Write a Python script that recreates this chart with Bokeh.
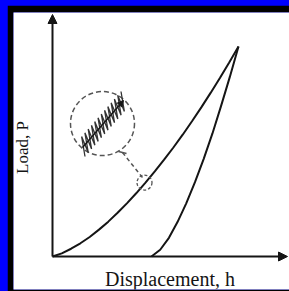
import numpy as np
from bokeh.plotting import figure
from bokeh.models import Range1d, Arrow, NormalHead, Label
from bokeh.embed import file_html
from bokeh.resources import INLINE

# ---- data (normalised to the peak) ----
load_h = [0.00, 0.05, 0.10, 0.15, 0.20, 0.25, 0.30, 0.35, 0.40, 0.45, 0.50,
          0.55, 0.60, 0.65, 0.70, 0.75, 0.80, 0.85, 0.90, 0.95, 1.00]
load_P = [0.000, 0.015, 0.037, 0.063, 0.093, 0.128, 0.166, 0.208, 0.253, 0.301, 0.352,
          0.405, 0.461, 0.519, 0.580, 0.644, 0.710, 0.779, 0.850, 0.924, 1.000]
unload_h = [0.532, 0.579, 0.626, 0.672, 0.719, 0.766, 0.813, 0.860, 0.906, 0.953, 1.000]
unload_P = [0.000, 0.032, 0.089, 0.164, 0.253, 0.354, 0.465, 0.586, 0.716, 0.854, 1.000]
x_label = "Displacement, h"
y_label = "Load, P"

# scale: pixels per data unit inside the frame
SX, SY = 186.0, 210.0

p = figure(width=282, height=286, output_backend="svg", toolbar_location=None,
           x_axis_type=None, y_axis_type=None,
           x_range=Range1d(-39 / SX, 237 / SX), y_range=Range1d(-33 / SY, 244 / SY),
           min_border_left=6, min_border_top=7, min_border_right=0, min_border_bottom=2,
           border_fill_color="black", background_fill_color="white",
           outline_line_color=None)
p.grid.visible = False

def dx(px):
    return px / SX

def dy(px):
    return px / SY

ink = "#151515"
# axes with arrows
p.add_layout(Arrow(end=NormalHead(size=9, fill_color=ink, line_color=ink),
                   x_start=0, y_start=0, x_end=dx(235), y_end=0,
                   line_width=2, line_color=ink))
p.add_layout(Arrow(end=NormalHead(size=9, fill_color=ink, line_color=ink),
                   x_start=0, y_start=0, x_end=0, y_end=dy(242),
                   line_width=2, line_color=ink))

# curves
p.line(load_h, load_P, line_color=ink, line_width=2)
p.line(unload_h, unload_P, line_color=ink, line_width=2)

# magnifier: small circle on the loading curve, big circle, connector
sm_x, sm_y = load_h[10] - dx(1), load_P[10]
big_x, big_y = dx(50), dy(133)
dash_col = "#555555"
p.scatter([sm_x], [sm_y], size=15, marker="circle", fill_color=None,
          line_color=dash_col, line_dash="3 2", line_width=1.3)
p.scatter([big_x], [big_y], size=64, marker="circle", fill_color=None,
          line_color=dash_col, line_dash="5 3", line_width=1.5)
p.line([dx(70), sm_x - dx(2)], [dy(104), sm_y + dy(5)], line_color=dash_col,
       line_dash="4 3", line_width=1.5)
p.line([dx(66), dx(74)], [dy(105), dy(103)], line_color=dash_col, line_width=1.5)

# zig-zag (cyclic loops) inside the big circle
ax_, ay_ = dx(30), dy(109)
bx_, by_ = dx(71), dy(156)
n = 26
t = np.linspace(0, 1, n)
sign = np.where(np.arange(n) % 2 == 0, -1.0, 1.0)
zx = ax_ + (bx_ - ax_) * t - sign * dx(2.5)
zy = ay_ + (by_ - ay_) * t + sign * dy(9)
p.line(zx, zy, line_color="#333333", line_width=1.3)
p.add_layout(Arrow(end=NormalHead(size=6, fill_color=ink, line_color=ink),
                   x_start=ax_, y_start=ay_, x_end=bx_, y_end=by_,
                   line_width=1.5, line_color=ink))

# labels
p.add_layout(Label(x=dx(117.5), y=-dy(22), text=x_label, text_font="Liberation Serif",
                   text_font_size="20px", text_align="center", text_baseline="alphabetic",
                   text_color=ink))
p.add_layout(Label(x=-dx(30), y=dy(109), text=y_label, text_font="Liberation Serif",
                   text_font_size="17px", text_align="center", text_baseline="middle",
                   angle=np.pi / 2, text_color=ink))

html = file_html(p, INLINE)
css = ("<style>html{background:#0000ff;overflow:hidden;}"
       "body{background:#0000ff;margin:5px 0 0 7px !important;height:auto !important;"
       "overflow:hidden;}</style></head>")
html = html.replace("</head>", css, 1)
open("out.html", "w").write(html)
